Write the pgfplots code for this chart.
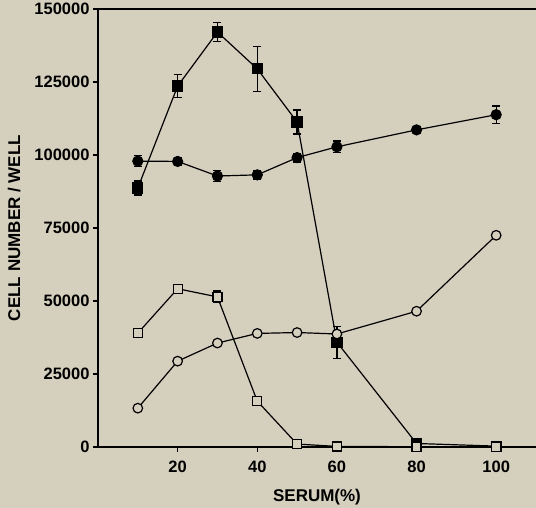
\documentclass[border=0pt]{standalone}
\usepackage{pgfplots}
\pgfplotsset{compat=1.18}
\usepackage{fontspec}
\setmainfont{Liberation Sans}
\definecolor{bg}{RGB}{213,207,190}
\begin{document}
\begin{tikzpicture}
\fill[bg] (-98pt,-61pt) rectangle (438pt,447pt);
\useasboundingbox (-98pt,-61pt) rectangle (438pt,447pt);
\begin{axis}[
  at={(0,0)}, anchor=south west,
  scale only axis, width=438pt, height=438pt,
  xmin=0, xmax=110, ymin=0, ymax=150000,
  axis x line*=box, axis y line*=left,
  xtick pos=bottom, ytick pos=left,
  axis line style={line width=1.3pt},
  xtick={20,40,60,80,100}, ytick={0,25000,50000,75000,100000,125000,150000},
  tick align=outside, major tick length=5pt,
  tick style={line width=1.2pt, black},
  /pgf/number format/.cd, fixed, precision=0, 1000 sep={}, assume math mode=true,
  /pgfplots/.cd,
  scaled y ticks=false,
  ticklabel style={font=\fontsize{16.5}{18}\selectfont\bfseries},
  xticklabel style={yshift=-5pt},
  xlabel={SERUM(\%)}, ylabel={CELL NUMBER / WELL},
  label style={font=\fontsize{17}{19}\selectfont\bfseries},
  xlabel shift=10pt, ylabel shift=7pt,
  every axis plot/.append style={line width=1.2pt, black},
  error bars/error bar style={line width=1.2pt},
  error bars/error mark options={rotate=90, mark size=4pt, line width=1.2pt},
]
% filled squares
\addplot[mark=square*, mark size=5pt, mark options={fill=black},
  error bars/.cd, y dir=both, y explicit]
  table[x=x, y=y, y error=e] {
x y e
10 88700 2400
20 123600 3900
30 142100 3250
40 129500 7700
50 111300 4100
60 35900 5500
80 1200 500
100 300 200
};
% filled circles
\addplot[mark=*, mark size=5pt, mark options={fill=black},
  error bars/.cd, y dir=both, y explicit]
  table[x=x, y=y, y error=e] {
x y e
10 97900 1900
20 97800 1400
30 92800 2000
40 93200 1500
50 99100 1500
60 102800 2000
80 108600 1200
100 113800 3000
};
% open squares
\addplot[mark=square*, mark size=4.5pt, mark options={fill=bg},
  error bars/.cd, y dir=both, y explicit]
  table[x=x, y=y, y error=e] {
x y e
10 39000 0
20 54200 0
30 51400 2000
40 15700 0
50 1000 0
60 200 0
80 100 0
100 0 0
};
% open circles
\addplot[mark=*, mark size=4.8pt, mark options={fill=bg}]
  table[x=x, y=y] {
x y
10 13300
20 29400
30 35600
40 38900
50 39200
60 38700
80 46500
100 72500
};
\end{axis}
\end{tikzpicture}
\end{document}
